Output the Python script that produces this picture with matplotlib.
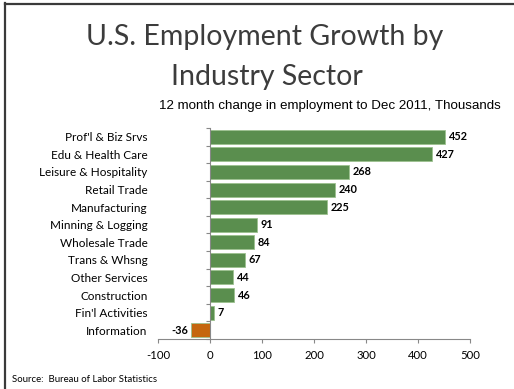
import matplotlib
matplotlib.use("Agg")
import matplotlib.pyplot as plt
from matplotlib.lines import Line2D
from matplotlib.ticker import FixedLocator
import numpy as np

sectors = ["Prof'l & Biz Srvs", "Edu & Health Care", "Leisure & Hospitality",
           "Retail Trade", "Manufacturing", "Minning & Logging", "Wholesale Trade",
           "Trans & Whsng", "Other Services", "Construction", "Fin'l Activities",
           "Information"]
change = [452, 427, 268, 240, 225, 91, 84, 67, 44, 46, 7, -36]
xticks = [-100, 0, 100, 200, 300, 400, 500]

GREEN = "#5a8e4e"
ORANGE = "#c5660f"
W, H = 514, 389

fig = plt.figure(figsize=(W / 100, H / 100), dpi=100)
fig.patch.set_facecolor("white")

# slide frame: dark rule along the left and top edges
fig.add_artist(Line2D([5 / W, 5 / W], [0, 1 - 3 / H], color="#3a3a3a", lw=1.6,
                      transform=fig.transFigure))
fig.add_artist(Line2D([5 / W, 1], [1 - 4 / H, 1 - 4 / H], color="#3a3a3a", lw=1.6,
                      transform=fig.transFigure))

fig.text(265 / W, 1 - 45 / H, "U.S. Employment Growth by", ha="center", va="baseline",
         fontsize=20.5, family="Lato", color="#3c3c3c")
fig.text(267 / W, 1 - 85 / H, "Industry Sector", ha="center", va="baseline",
         fontsize=20.5, family="Lato", color="#3c3c3c")
fig.text(330 / W, 1 - 109 / H, "12 month change in employment to Dec 2011, Thousands",
         ha="center", va="baseline", fontsize=9.6, family="Liberation Sans", color="black")
fig.text(12 / W, 1 - 380 / H, "Source:  Bureau of Labor Statistics", ha="left",
         va="center", fontsize=6.9, family="Lato", color="black")

ax = fig.add_axes([158 / W, 1 - 339 / H, (470 - 158) / W, (339 - 128) / H])
ypos = np.arange(len(sectors))
colors = [GREEN if v >= 0 else ORANGE for v in change]
ax.barh(ypos, change, height=0.8, color=colors, edgecolor="#9cc18f", linewidth=0.6)

for y, v in zip(ypos, change):
    if v >= 0:
        ax.text(v + 7, y, str(v), ha="left", va="center", fontsize=7.8,
                fontweight="bold", family="Lato")
    else:
        ax.text(v - 6, y, str(v), ha="right", va="center", fontsize=7.8,
                fontweight="bold", family="Lato")

ax.set_xlim(-100, 500)
ax.set_ylim(len(sectors) - 0.5, -0.5)
ax.set_xticks(xticks)
ax.set_xticklabels([str(t) for t in xticks], family="Lato", fontsize=8.2)
ax.tick_params(axis="x", length=3, width=0.8, color="#888888", pad=5)

ax.spines["left"].set_position(("data", 0))
ax.set_yticks(ypos)
ax.set_yticklabels(sectors, family="Lato", fontsize=8.5)
ax.tick_params(axis="y", which="major", length=0, pad=45)
ax.yaxis.set_minor_locator(FixedLocator(np.arange(-0.5, len(sectors), 1.0)))
ax.tick_params(axis="y", which="minor", length=3, width=0.8, color="#888888")

for s in ["top", "right"]:
    ax.spines[s].set_visible(False)
for s in ["left", "bottom"]:
    ax.spines[s].set_color("#888888")
    ax.spines[s].set_linewidth(0.8)

fig.savefig("out.png", dpi=100)
